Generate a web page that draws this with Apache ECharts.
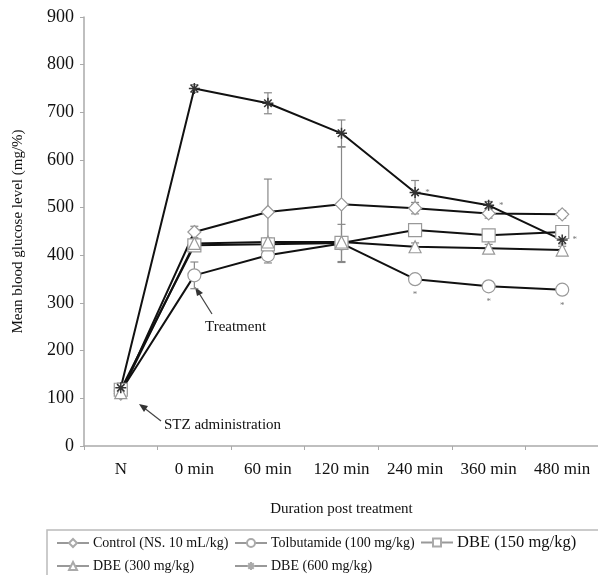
<!DOCTYPE html>
<html><head><meta charset="utf-8">
<script src="https://cdn.jsdelivr.net/npm/echarts@6/dist/echarts.min.js"></script>
<style>html,body{margin:0;padding:0;background:#fff}#c{width:598px;height:575px}</style>
</head><body><div id="c"></div>
<script>
const categories = ['N','0 min','60 min','120 min','240 min','360 min','480 min'];
const yTicks = [0,100,200,300,400,500,600,700,800,900];
const control = [110, 449, 491, 507, 499, 488, 486];
const controlErr = [8, 12, 69, 120, 12, 10, 8];
const tolbutamide = [115, 358, 400, 425, 350, 335, 328];
const tolbutamideErr = [8, 28, 16, 40, 10, 8, 8];
const dbe150 = [118, 421, 423, 426, 453, 442, 449];
const dbe150Err = [8, 10, 10, 10, 12, 10, 10];
const dbe300 = [112, 425, 428, 428, 418, 415, 411];
const dbe300Err = [8, 10, 8, 8, 8, 8, 8];
const dbe600 = [122, 750, 719, 656, 532, 505, 432];
const dbe600Err = [10, 8, 22, 28, 25, 8, 8];
const sigTolb = ['','','','','*','*','*'];
const sig600 = ['','','','','*','*','*'];
const names = ['Control (NS. 10 mL/kg)','Tolbutamide (100 mg/kg)','DBE (150 mg/kg)','DBE (300 mg/kg)','DBE (600 mg/kg)'];

const FONT = 'Liberation Serif';
const star = 'path://M5,0L5,10M0,5L10,5M1.6,1.6L8.4,8.4M1.6,8.4L8.4,1.6';

function lineSeries(name, data, symbol, size, sig, sigPos){
  return {
    type:'line', name, data: data.map((v,i)=>({value:v, label:{show: !!(sig && sig[i]), formatter: sig? sig[i]:''}})),
    symbol, symbolSize: size, z:3,
    lineStyle:{color:'#111', width:2},
    itemStyle:{color:'#fff', borderColor: symbol===star ? '#333':'#999', borderWidth: symbol===star?1.5:1.2},
    label:{position: sigPos || 'bottom', color:'#777', fontSize:9, distance:4},
    emphasis:{disabled:true}
  };
}
function errSeries(data, err){
  return {
    type:'custom', z:1, silent:true,
    data: data.map((v,i)=>[i, v, err[i]]),
    renderItem(params, api){
      const i = api.value(0), m = api.value(1), e = api.value(2);
      const top = api.coord([i, m+e]), bot = api.coord([i, m-e]);
      const w = 4;
      return {type:'group', children:[
        {type:'line', shape:{x1:top[0],y1:top[1],x2:bot[0],y2:bot[1]}, style:{stroke:'#888', lineWidth:1.2}},
        {type:'line', shape:{x1:top[0]-w,y1:top[1],x2:top[0]+w,y2:top[1]}, style:{stroke:'#888', lineWidth:1.2}},
        {type:'line', shape:{x1:bot[0]-w,y1:bot[1],x2:bot[0]+w,y2:bot[1]}, style:{stroke:'#888', lineWidth:1.2}}
      ]};
    }
  };
}
function leg(name, left, top, fs){
  return {data:[name], left, top, itemWidth:32, itemHeight:10, itemGap:0, padding:0,
    textStyle:{fontFamily:FONT, fontSize:fs||14, color:'#111', padding:[0,0,0,-1]},
    lineStyle:{color:'#999', width:2}, itemStyle:{color:'#fff', borderColor:'#aaa'}, selectedMode:false};
}

const chart = echarts.init(document.getElementById('c'));
chart.setOption({
  animation:false,
  textStyle:{fontFamily:FONT},
  grid:{left:84, right:-1, top:17, bottom:129, containLabel:false, outerBoundsMode:'none'},
  legend:[
    leg(names[0], 56, 536), leg(names[1], 234, 536), leg(names[2], 420, 534, 16.5),
    leg(names[3], 56, 559), leg(names[4], 234, 559)
  ],
  xAxis:{type:'category', data:categories, boundaryGap:true,
    name:'Duration post treatment', nameLocation:'middle', nameGap:56,
    nameTextStyle:{fontFamily:FONT, fontSize:15, color:'#111'},
    axisLine:{lineStyle:{color:'#aaa', width:1.5}},
    axisTick:{show:true, length:4, lineStyle:{color:'#aaa'}},
    axisLabel:{fontFamily:FONT, fontSize:17, color:'#111', margin:15, interval:0}},
  yAxis:{type:'value', min:0, max:900, interval:100,
    name:'Mean blood glucose level (mg/%)', nameLocation:'middle', nameGap:58, nameRotate:90,
    nameTextStyle:{fontFamily:FONT, fontSize:15, color:'#111'},
    axisLine:{show:true, lineStyle:{color:'#aaa', width:1.5}},
    axisTick:{show:true, length:4, lineStyle:{color:'#aaa'}},
    splitLine:{show:false},
    axisLabel:{fontFamily:FONT, fontSize:18, color:'#111', margin:10,
      customValues: yTicks}},
  series:[
    errSeries(control, controlErr), errSeries(tolbutamide, tolbutamideErr), errSeries(dbe150, dbe150Err),
    errSeries(dbe300, dbe300Err), errSeries(dbe600, dbe600Err),
    lineSeries(names[0], control, 'diamond', 13),
    lineSeries(names[1], tolbutamide, 'circle', 13, sigTolb, 'bottom'),
    lineSeries(names[2], dbe150, 'rect', 13),
    lineSeries(names[3], dbe300, 'triangle', 12),
    lineSeries(names[4], dbe600, star, 11, sig600, 'right')
  ],
  graphic:[
    {type:'rect', shape:{x:47, y:530, width:560, height:60}, style:{fill:'none', stroke:'#bbb', lineWidth:1.5}, z:-1},
    {type:'text', left:205, top:320, style:{text:'Treatment', font:'15px "Liberation Serif"', fill:'#111'}},
    {type:'text', left:164, top:418, style:{text:'STZ administration', font:'15px "Liberation Serif"', fill:'#111'}},
    {type:'line', shape:{x1:212, y1:314, x2:197, y2:290}, style:{stroke:'#444', lineWidth:1.2}},
    {type:'polygon', shape:{points:[[195,287],[203,293],[197,296]]}, style:{fill:'#333'}},
    {type:'line', shape:{x1:161, y1:421, x2:143, y2:407}, style:{stroke:'#444', lineWidth:1.2}},
    {type:'polygon', shape:{points:[[139,404],[148,406],[144,412]]}, style:{fill:'#333'}}
  ]
});
</script></body></html>
